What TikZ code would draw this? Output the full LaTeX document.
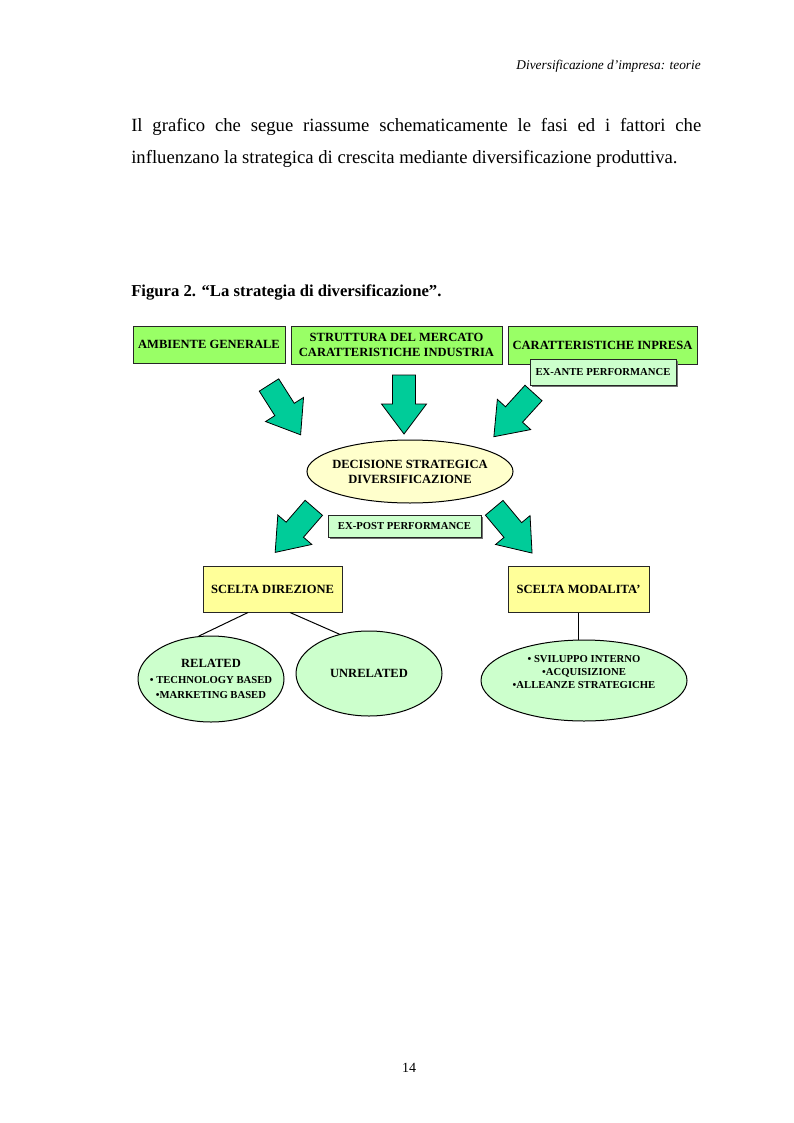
\documentclass[tikz,border=0pt]{standalone}
\usepackage{fontspec}
\setmainfont{Liberation Serif}
\usetikzlibrary{shapes.geometric,calc,shadows}
\definecolor{topgreen}{HTML}{99FF66}
\definecolor{palegreen}{HTML}{CCFFCC}
\definecolor{paleyellow}{HTML}{FFFFCC}
\definecolor{boxyellow}{HTML}{FFFF99}
\definecolor{arrowteal}{HTML}{00CC99}
\newcommand{\smallbf}{\bfseries\fontsize{8}{10}\selectfont}
\newcommand{\bigbf}{\bfseries\fontsize{9.4}{11.25}\selectfont}
\newcommand{\blockarrow}[2]{%
  \draw[arrowshape, shift={(#1)}, rotate=#2]
    (0,-11.5) -- (29,-11.5) -- (29,-22.5) -- (59,0) -- (29,22.5) -- (29,11.5) -- (0,11.5) -- cycle;}
\begin{document}
\begin{tikzpicture}[x=0.75pt,y=-0.75pt,
  wh/.style 2 args={minimum width=#1*0.75pt, minimum height=#2*0.75pt},
  box/.style={draw=black!85, line width=0.75pt, inner sep=0pt, align=center, font=\bigbf},
  topbox/.style={box, fill=topgreen},
  perfbox/.style={box, fill=palegreen, font=\smallbf, general shadow={fill=black!55, shadow xshift=1.2pt, shadow yshift=-1.2pt}},
  yelbox/.style={box, fill=boxyellow},
  ell/.style={ellipse, draw=black, line width=0.75pt, inner sep=0pt},
  elltext/.style={inner sep=0pt, align=center, font=\bigbf},
  arrowshape/.style={fill=arrowteal, draw=black, line width=0.6pt, line join=miter},
  link/.style={draw=black, line width=0.75pt},
  bodytext/.style={inner sep=0pt, anchor=base west, font=\fontsize{14}{17}\selectfont}
]
\useasboundingbox (0,0) rectangle (793,1123);
\fill[white] (0,0) rectangle (793,1123);

% header
\node[inner sep=0pt, anchor=base east, font=\itshape\fontsize{10}{12}\selectfont] (hdr) at (701,70) {Diversificazione d’impresa: teorie};

% paragraph
\node[bodytext] (l1) at (131,132) {\makebox[427.5pt][s]{Il grafico che segue riassume schematicamente le fasi ed i fattori che}};
\node[bodytext] (l2) at (131,164) {influenzano la strategica di crescita mediante diversificazione produttiva.};

% title
\node[inner sep=0pt, anchor=base west, font=\bfseries\fontsize{12.5}{15}\selectfont] (title) at (131,296) {Figura 2. “La strategia di diversificazione”.};

% top boxes
\node[topbox, wh={152}{37}] (amb) at (209,344.5) {AMBIENTE GENERALE};
\node[topbox, wh={211}{38}] (str) at (396.5,345) {STRUTTURA DEL MERCATO\\CARATTERISTICHE INDUSTRIA};
\node[topbox, wh={189}{38}] (car) at (602.5,345) {CARATTERISTICHE INPRESA};
\node[perfbox, wh={146}{26}] (exante) at (603,372) {EX-ANTE PERFORMANCE};

% arrows in
\blockarrow{269,385}{-57.6}
\blockarrow{404,375}{-90}
\blockarrow{533.5,393}{-132.2}

% decision
\node[ell, fill=paleyellow, wh={206}{63}] (dec) at (410,471.5) {};
\node[elltext] (dect) at (dec.center) {DECISIONE STRATEGICA\\DIVERSIFICAZIONE};

% arrows out
\blockarrow{313.8,507.8}{-130.9}
\blockarrow{494.2,507.8}{-50.1}
\node[perfbox, wh={153}{22}] (expost) at (404.5,526) {EX-POST PERFORMANCE};

% choice boxes
\node[yelbox, wh={139}{46}] (sd) at (272.5,589) {SCELTA DIREZIONE};
\node[yelbox, wh={141}{46}] (sm) at (578.5,589) {SCELTA MODALITA’};

% bottom ellipses
\node[ell, fill=palegreen, wh={146}{86}] (rel) at (211,679) {};
\node[elltext] (relt) at (rel.center) {RELATED\\[1pt]{\smallbf • TECHNOLOGY BASED}\\{\smallbf •MARKETING BASED}};
\node[ell, fill=palegreen, wh={146}{85}] (unrel) at (369,673.5) {};
\node[elltext] (unrelt) at (unrel.center) {UNRELATED};
\node[ell, fill=palegreen, wh={206}{81}] (mod) at (584,680.5) {};
\node[elltext, font=\smallbf] (modt) at (584,672) {• SVILUPPO INTERNO\\•ACQUISIZIONE\\•ALLEANZE STRATEGICHE};

% links
\draw[link] ($(sd.south)+(-24.5,0)$) -- (rel.106);
\draw[link] ($(sd.south)+(17.5,0)$) -- (unrel.127);
\draw[link] (sm.south) -- (sm.south |- mod.north);

% page number
\node[inner sep=0pt, anchor=base, font=\fontsize{10.5}{12}\selectfont] (pg) at (409,1072) {14};
\end{tikzpicture}
\end{document}
